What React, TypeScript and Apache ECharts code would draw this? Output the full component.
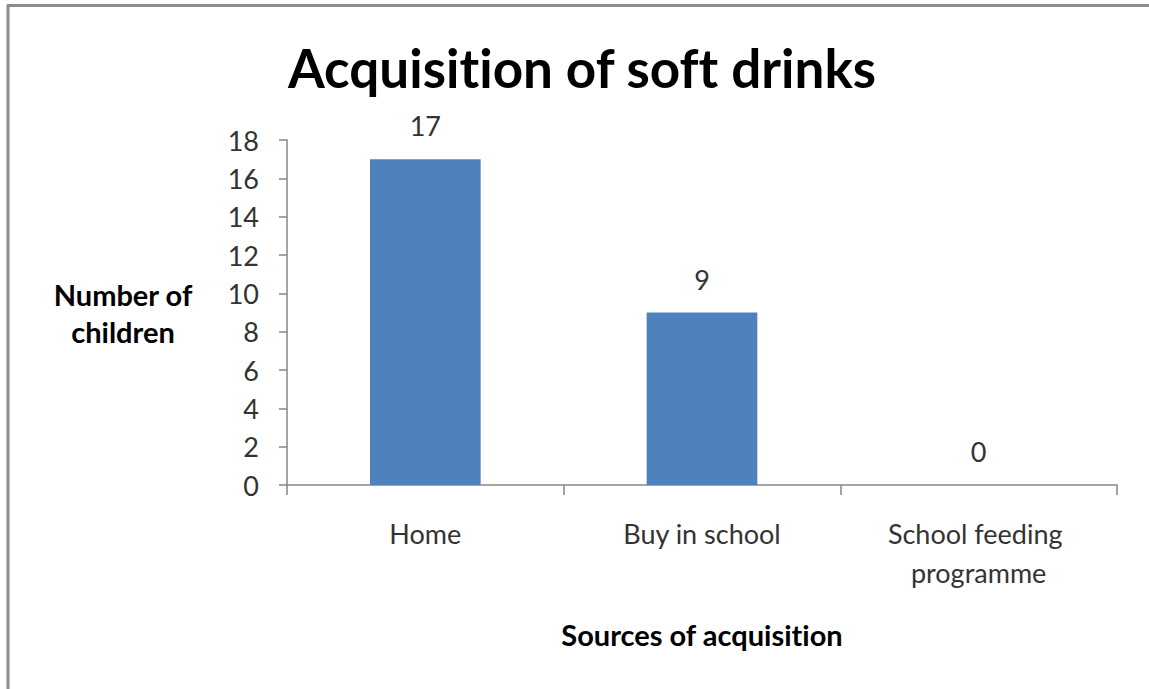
import React, { useEffect, useRef } from "react";
import * as echarts from "echarts";

const categories = ["Home", "Buy in school", "School feeding programme"];
const values = [17, 9, 0];
const yTicks = { min: 0, max: 18, interval: 2 };
const titleText = "Acquisition of soft drinks";
const yAxisTitle = "Number of\nchildren";
const xAxisTitle = "Sources of acquisition";

const FONT = "Lato";

export default function App() {
  const ref = useRef<HTMLDivElement>(null);
  useEffect(() => {
    if (!ref.current) return;
    const chart = echarts.init(ref.current, undefined, { renderer: "svg" });
    chart.setOption({
      animation: false,
      backgroundColor: "#ffffff",
      title: {
        text: titleText,
        left: 577,
        top: 36,
        textAlign: "center",
        textStyle: { fontFamily: FONT, fontWeight: "bold", fontSize: 53, color: "#000" },
      },
      grid: { left: 287, right: 32, top: 140, bottom: 204, containLabel: false },
      xAxis: {
        type: "category",
        data: categories,
        name: xAxisTitle,
        nameLocation: "middle",
        nameGap: 135,
        nameTextStyle: { fontFamily: FONT, fontWeight: "bold", fontSize: 29, color: "#000" },
        axisLine: { lineStyle: { color: "#868686", width: 1.5 } },
        axisTick: { show: true, length: 10, lineStyle: { color: "#868686", width: 1.5 } },
        axisLabel: {
          fontFamily: FONT,
          fontSize: 27,
          color: "#333",
          margin: 29,
          width: 210,
          overflow: "break",
          lineHeight: 39,
          interval: 0,
        },
      },
      yAxis: {
        type: "value",
        min: yTicks.min,
        max: yTicks.max,
        interval: yTicks.interval,
        axisLine: { show: true, lineStyle: { color: "#868686", width: 1.5 } },
        axisTick: { show: true, length: 8, lineStyle: { color: "#868686", width: 1.5 } },
        splitLine: { show: false },
        axisLabel: { fontFamily: FONT, fontSize: 27, color: "#333", margin: 28 },
      },
      graphic: [
        {
          type: "text",
          x: 123,
          y: 313,
          style: {
            text: yAxisTitle,
            align: "center",
            verticalAlign: "middle",
            font: `bold 29px ${FONT}`,
            lineHeight: 37,
            fill: "#000",
          },
        },
        {
          type: "line",
          shape: { x1: 8, y1: 5, x2: 8, y2: 689 },
          style: { stroke: "#8c8c8c", lineWidth: 3 },
        },
        {
          type: "line",
          shape: { x1: 7, y1: 5.5, x2: 1149, y2: 5.5 },
          style: { stroke: "#8c8c8c", lineWidth: 3 },
        },
      ],
      series: [
        {
          type: "bar",
          data: values,
          barWidth: "40%",
          itemStyle: { color: "#4F81BD" },
          label: {
            show: true,
            position: "top",
            distance: 20,
            fontFamily: FONT,
            fontSize: 27,
            color: "#333",
          },
        },
      ],
    });
    return () => chart.dispose();
  }, []);
  return (
    <div
      ref={ref}
      style={{
        position: "absolute",
        left: 0,
        top: 0,
        width: 1149,
        height: 689,
        fontVariantLigatures: "none",
      }}
    />
  );
}
